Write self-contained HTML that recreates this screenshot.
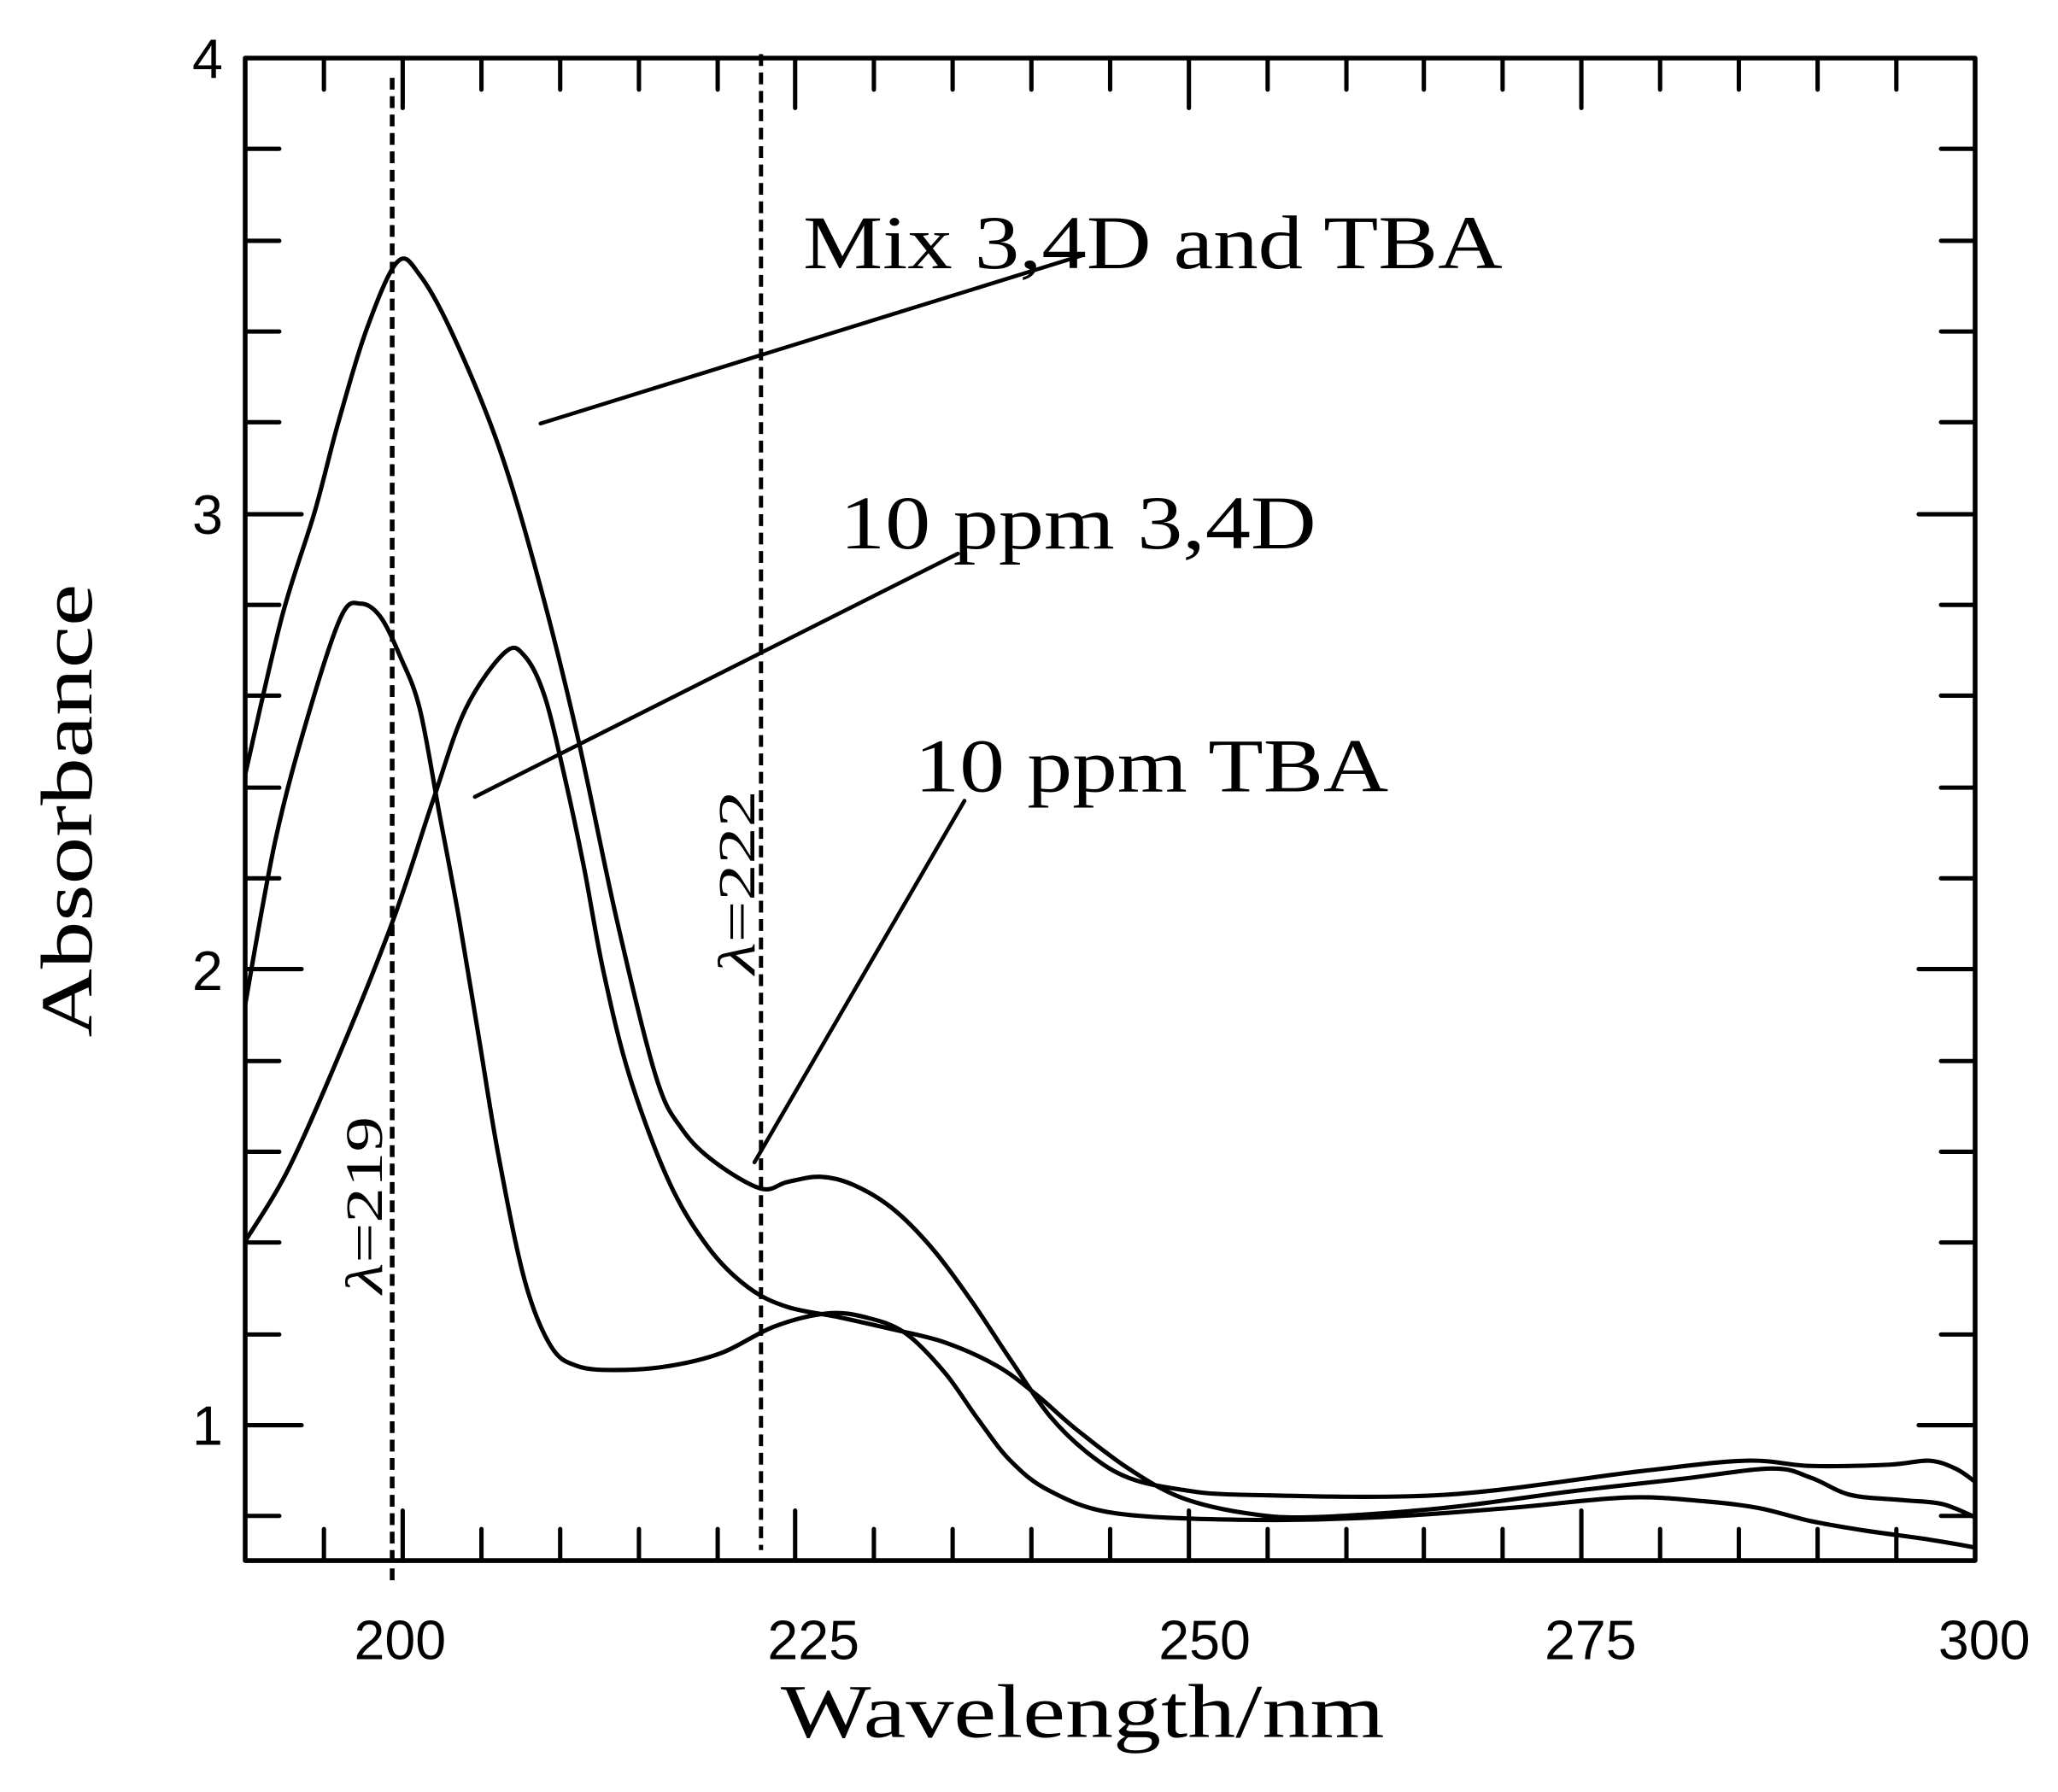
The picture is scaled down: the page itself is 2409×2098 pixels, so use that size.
<!DOCTYPE html>
<html><head><meta charset="utf-8"><style>
html,body{margin:0;padding:0;background:#fff;}
svg{display:block;}
</style></head><body>
<svg width="2409" height="2098" viewBox="0 0 2409 2098" xmlns="http://www.w3.org/2000/svg">
<rect width="2409" height="2098" fill="#fff"/>
<g transform="translate(287,68) scale(1.5364,1.539) translate(-187,-45)">
<g fill="none" stroke="#000" stroke-width="3.3" stroke-linejoin="round" stroke-linecap="round">
<rect x="187" y="45" width="1318" height="1143" stroke-width="3.6"/>
<path d="
M247,1188v-24 M307,1188v-38 M367,1188v-24 M427,1188v-24 M487,1188v-24 M547,1188v-24 M606,1188v-38 M666,1188v-24 M726,1188v-24 M786,1188v-24 M846,1188v-24 M906,1188v-38 M966,1188v-24 M1026,1188v-24 M1085,1188v-24 M1145,1188v-24 M1205,1188v-38 M1265,1188v-24 M1325,1188v-24 M1385,1188v-24 M1445,1188v-24
M247,45v24 M307,45v38 M367,45v24 M427,45v24 M487,45v24 M547,45v24 M606,45v38 M666,45v24 M726,45v24 M786,45v24 M846,45v24 M906,45v38 M966,45v24 M1026,45v24 M1085,45v24 M1145,45v24 M1205,45v38 M1265,45v24 M1325,45v24 M1385,45v24 M1445,45v24
"/>
<path d="
M187,1154h26 M187,1085h43 M187,1016h26 M187,946h26 M187,877h26 M187,808h26 M187,738h43 M187,669h26 M187,600h26 M187,530h26 M187,461h26 M187,392h43 M187,322h26 M187,253h26 M187,184h26 M187,114h26
M1505,1154h-26 M1505,1085h-43 M1505,1016h-26 M1505,946h-26 M1505,877h-26 M1505,808h-26 M1505,738h-43 M1505,669h-26 M1505,600h-26 M1505,530h-26 M1505,461h-26 M1505,392h-43 M1505,322h-26 M1505,253h-26 M1505,184h-26 M1505,114h-26
"/>
<path d="M299,60V1205" stroke-width="3.6" stroke-dasharray="9,5" stroke-linecap="butt"/>
<path d="M580,42V1180" stroke-width="3.2" stroke-dasharray="9,5" stroke-linecap="butt"/>
<path d="M412,323L825,195 M362,607L730,422 M575,885L735,610" stroke-width="3"/>
<path id="c1" d=""/>
<path id="c2" d=""/>
<path id="c3" d=""/>
</g>
<g font-family="'Liberation Sans', Arial, sans-serif" font-size="42" fill="#000">
<text x="170" y="60" text-anchor="end">4</text>
<text x="170" y="407" text-anchor="end">3</text>
<text x="170" y="754" text-anchor="end">2</text>
<text x="170" y="1100" text-anchor="end">1</text>
<text x="305" y="1263" text-anchor="middle">200</text>
<text x="620" y="1263" text-anchor="middle">225</text>
<text x="918" y="1263" text-anchor="middle">250</text>
<text x="1212" y="1263" text-anchor="middle">275</text>
<text x="1512" y="1263" text-anchor="middle">300</text>
</g>
<g font-family="'Liberation Serif', 'Times New Roman', serif" fill="#000">
<text x="595" y="1322" font-size="58" textLength="460" lengthAdjust="spacingAndGlyphs">Wavelength/nm</text>
<text transform="translate(70,790) rotate(-90)" font-size="56" textLength="345" lengthAdjust="spacingAndGlyphs">Absorbance</text>
<text x="612" y="205" font-size="58" textLength="533" lengthAdjust="spacingAndGlyphs">Mix 3,4D and TBA</text>
<text x="640" y="418" font-size="58" textLength="363" lengthAdjust="spacingAndGlyphs">10 ppm 3,4D</text>
<text x="697" y="603" font-size="58" textLength="361" lengthAdjust="spacingAndGlyphs">10 ppm TBA</text>
<text transform="translate(291,985) rotate(-90)" font-size="40" textLength="135" lengthAdjust="spacingAndGlyphs"><tspan font-style="italic">λ</tspan>=219</text>
<text transform="translate(575,742) rotate(-90)" font-size="40" textLength="140" lengthAdjust="spacingAndGlyphs"><tspan font-style="italic">λ</tspan>=222</text>
</g>
</g>
</svg>
<script>
function cr(s){var p=s.trim().split(/\s+/).map(function(t){return t.split(',').map(Number);});
var d='M'+p[0][0]+','+p[0][1];
for(var i=0;i<p.length-1;i++){var p0=p[i-1]||p[i],p1=p[i],p2=p[i+1],p3=p[i+2]||p2;
d+=' C'+(p1[0]+(p2[0]-p0[0])/6)+','+(p1[1]+(p2[1]-p0[1])/6)+' '+(p2[0]-(p3[0]-p1[0])/6)+','+(p2[1]-(p3[1]-p1[1])/6)+' '+p2[0]+','+p2[1];}
return d;}
document.getElementById('c1').setAttribute('d',cr("187,590 215,470 240,390 258,322 280,250 303,200 320,210 345,255 380,340 410,440 440,560 470,700 500,820 520,860 545,885 580,905 600,900 625,896 650,902 680,920 710,950 740,990 770,1035 800,1078 830,1107 860,1125 900,1134 950,1138 1100,1138 1250,1120 1330,1112 1380,1116 1440,1115 1470,1112 1490,1118 1505,1128"));
document.getElementById('c2').setAttribute('d',cr("187,945 220,890 260,800 300,700 330,610 355,540 385,497 400,500 415,530 430,590 445,660 460,740 480,820 510,900 540,950 570,980 600,995 640,1003 680,1012 720,1022 760,1040 790,1062 820,1088 860,1118 900,1140 950,1152 1000,1155 1100,1148 1200,1135 1280,1126 1350,1118 1380,1125 1410,1138 1450,1142 1480,1145 1505,1155"));
document.getElementById('c3').setAttribute('d',cr("187,765 210,640 235,545 260,470 275,460 290,470 305,500 320,540 335,620 350,700 365,790 380,880 400,975 420,1025 440,1040 470,1043 510,1040 550,1030 590,1010 630,1000 660,1003 690,1015 720,1045 745,1080 770,1112 800,1135 850,1152 950,1157 1050,1155 1150,1148 1240,1140 1300,1143 1340,1148 1380,1158 1420,1165 1470,1172 1505,1178"));
</script>
</body></html>
